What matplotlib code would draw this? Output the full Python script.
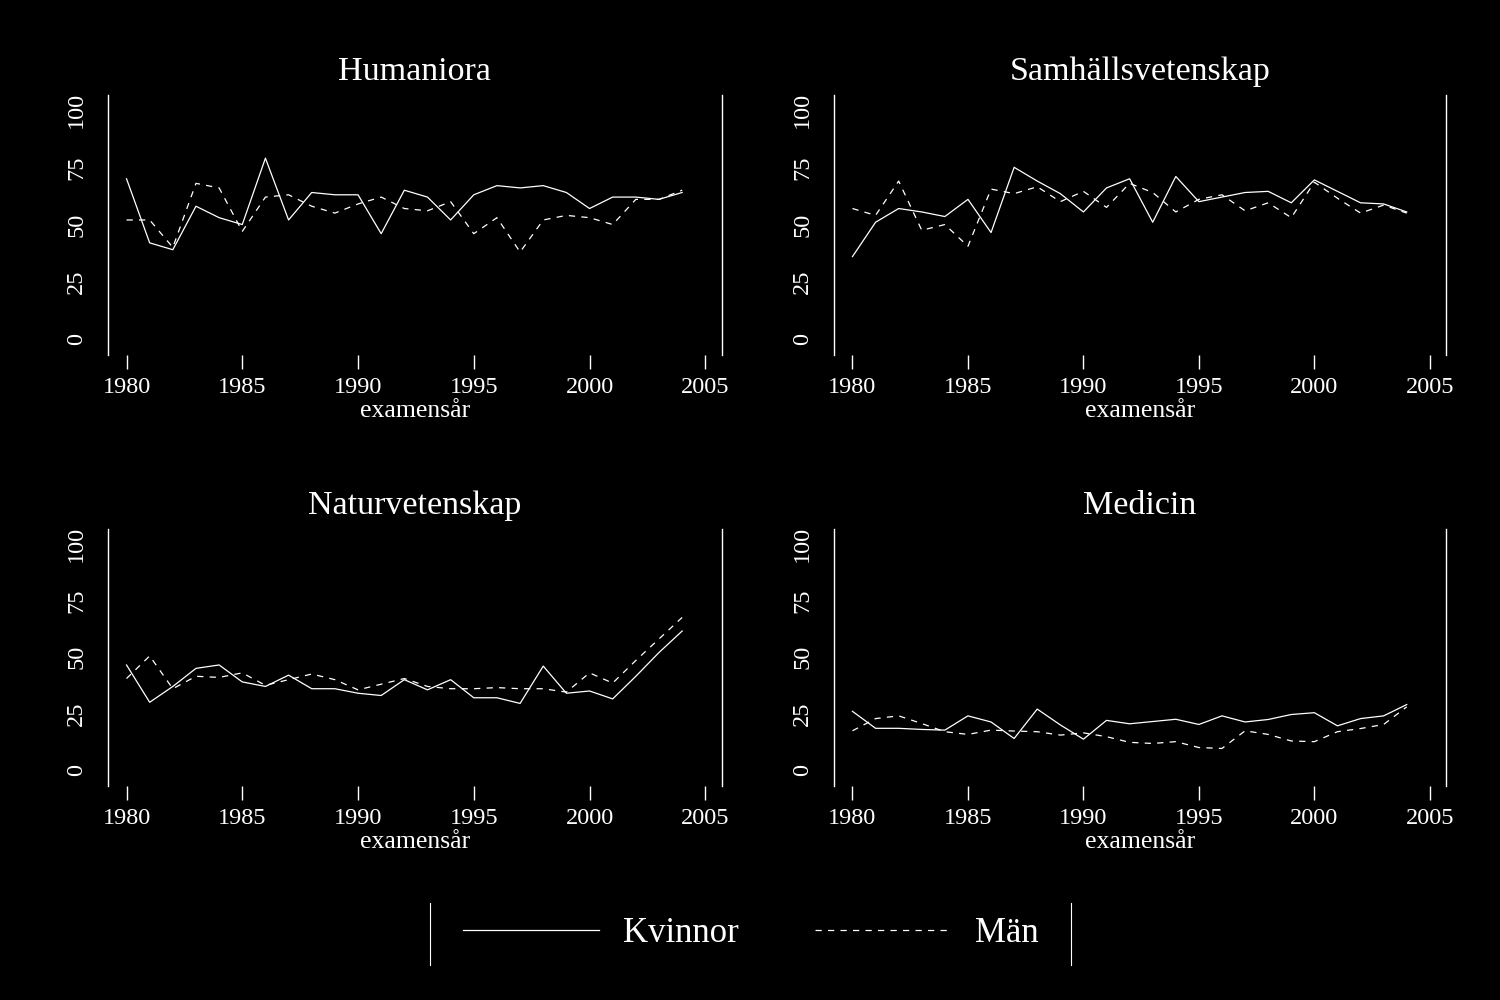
import matplotlib
matplotlib.use("Agg")
import matplotlib.pyplot as plt
from matplotlib.lines import Line2D

plt.rcParams['font.family'] = ['Liberation Serif', 'DejaVu Serif']

years = list(range(1980, 2005))

# andel (%) per examensår
hum_kvinnor = [70, 42, 39, 58, 53, 50, 79, 52, 64, 63, 63, 46, 65, 62, 52,
               63, 67, 66, 67, 64, 57, 62, 62, 61, 64]
hum_man = [52, 52, 40, 68, 66, 47, 62, 63, 58, 55, 59, 62, 57, 56, 60,
           46, 53, 38, 52, 54, 53, 50, 61, 61, 65]

sam_kvinnor = [36, 51, 57, 55.5, 53.5, 61, 46.5, 75, 69, 63.5, 55.5, 66, 70, 51, 71,
               60, 62, 64, 64.5, 59.5, 69.5, 64.5, 59.5, 59, 55.5]
sam_man = [57, 54, 69, 47.5, 50, 40.5, 65.5, 63.5, 66.5, 60, 64.5, 57.5, 68, 64, 55.5,
           61, 63, 56, 59.5, 53, 68.5, 61.5, 55, 58.5, 55]

nat_kvinnor = [46.5, 30, 37, 45, 46.5, 39, 37, 42, 36, 36, 34, 33, 40, 35.5, 40,
               32, 32, 29.5, 46, 34, 35, 31.5, 41.5, 52, 61.5]
nat_man = [40.5, 50.5, 36, 41.5, 41, 43, 37.5, 40, 42.5, 40, 35.5, 38, 40.5, 37, 36,
           36, 36.5, 36, 36, 34.5, 43, 38.5, 48.5, 58, 67.5]

med_kvinnor = [26, 18.5, 18.5, 18, 17.7, 24, 21.3, 14, 27, 20, 13.7, 22, 20.5, 21.5, 22.5,
               20.2, 24, 21.3, 22.4, 24.6, 25.4, 19.6, 22.8, 24, 29]
med_man = [17.4, 22.8, 24, 20.6, 17, 15.8, 17.7, 17.3, 17, 15.5, 16.5, 14.8, 12.3, 11.8, 12.6,
           10, 9.6, 17.4, 15.8, 12.9, 12.6, 17, 18.4, 20.2, 28]

x_ticks = [1980, 1985, 1990, 1995, 2000, 2005]
y_ticks = [0, 25, 50, 75, 100]
series_labels = ["Kvinnor", "Män"]

panels = [
    ("Humaniora", hum_kvinnor, hum_man, [0.072, 0.645, 0.409, 0.26]),
    ("Samhällsvetenskap", sam_kvinnor, sam_man, [0.556, 0.645, 0.408, 0.26]),
    ("Naturvetenskap", nat_kvinnor, nat_man, [0.072, 0.214, 0.409, 0.257]),
    ("Medicin", med_kvinnor, med_man, [0.556, 0.214, 0.408, 0.257]),
]

fig = plt.figure(figsize=(15, 10), dpi=100, facecolor="black")

for title, kv, man, rect in panels:
    ax = fig.add_axes(rect, facecolor="black")
    ax.plot(years, kv, color="white", lw=0.9, ls="-")
    ax.plot(years, man, color="white", lw=0.9, ls=(0, (5, 5)))
    ax.set_xlim(1979.2, 2005.7)
    ax.set_ylim(-7, 106.6)
    ax.set_xticks(x_ticks)
    ax.set_yticks(y_ticks)
    ax.spines["top"].set_visible(False)
    ax.spines["bottom"].set_visible(False)
    for s in ["left", "right"]:
        ax.spines[s].set_color("white")
        ax.spines[s].set_linewidth(1)
    ax.tick_params(axis="x", colors="white", length=10, width=1, direction="out",
                   pad=6, labelsize=17.5)
    ax.tick_params(axis="y", colors="white", length=0, pad=15, labelsize=17.5)
    plt.setp(ax.get_yticklabels(), rotation=90, va="center")
    ax.set_title(title, color="white", fontsize=24.5, pad=11)
    ax.set_xlabel("examensår", color="white", fontsize=18.5, labelpad=1)

# legend box, only the vertical edges show
lax = fig.add_axes([0.287, 0.035, 0.427, 0.062], facecolor="black")
lax.set_xticks([])
lax.set_yticks([])
lax.spines["top"].set_visible(False)
lax.spines["bottom"].set_visible(False)
for s in ["left", "right"]:
    lax.spines[s].set_color("white")
handles = [Line2D([], [], color="white", lw=0.9, ls="-"),
           Line2D([], [], color="white", lw=0.9, ls=(0, (5, 5)))]
lax.legend(handles, series_labels, loc="center", ncol=2, frameon=False,
           fontsize=25, handlelength=3.9, handletextpad=0.7, columnspacing=2.2,
           labelcolor="white")

fig.savefig("out.png", dpi=100, facecolor="black")
